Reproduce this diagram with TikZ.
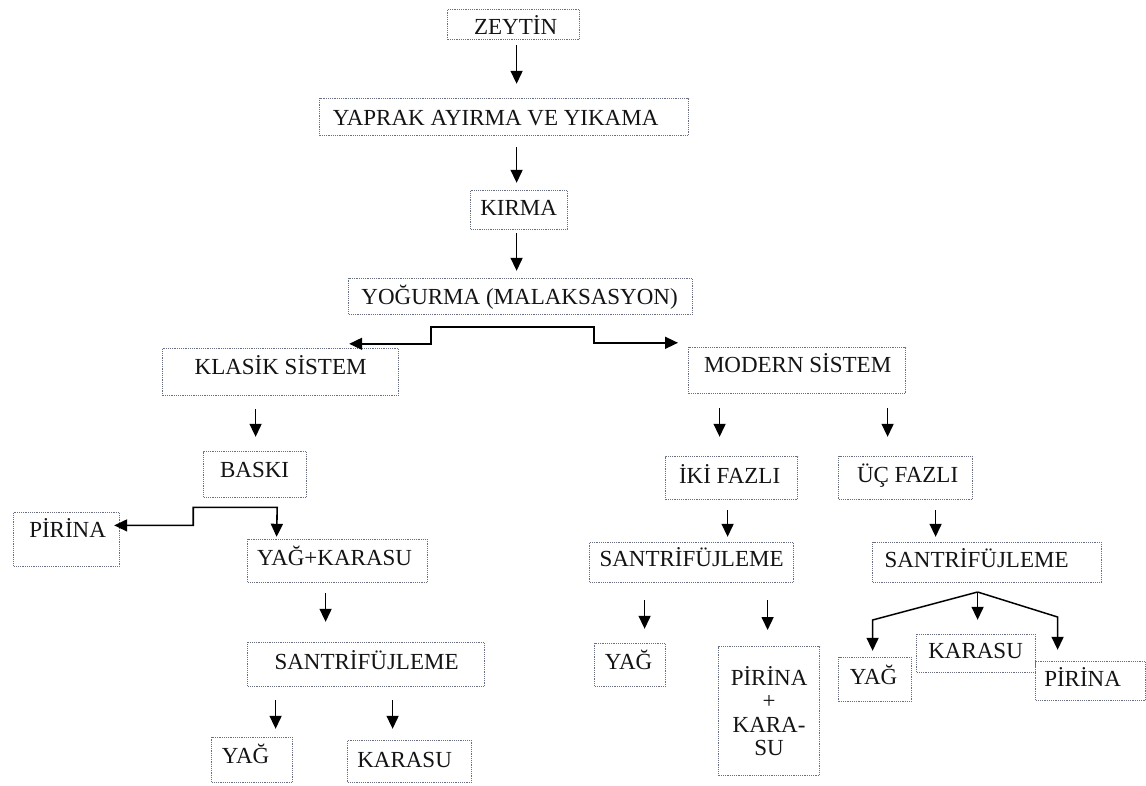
\documentclass[tikz,border=0pt]{standalone}
\usepackage{fontspec}
\setmainfont{Liberation Serif}
\usetikzlibrary{arrows.meta,calc}
\definecolor{boxline}{RGB}{105,110,130}
\definecolor{txt}{RGB}{20,20,20}
\newcommand\flowbox[8]{%
 \pgfmathsetmacro\fbw{#4-#2}%
 \pgfmathsetmacro\fbh{#6-#3}%
 \pgfmathsetmacro\fbd{#5-#6}%
 \pgfmathsetmacro\fbs{2*(#7-(#2+#4)/2)}%
 \node[box, minimum width=\fbw pt, text height=\fbh pt, text depth=\fbd pt, anchor=south west] (#1) at (#2,#5) {\hspace*{\fbs pt}#8};}
\begin{document}
\begin{tikzpicture}[x=1pt,y=-1pt,
  box/.style={draw=boxline, densely dotted, line width=1.2pt, inner sep=0pt, text=txt,
    font=\fontsize{23}{23.5}\selectfont},
  arr/.style={draw=black, line width=1.5pt, -{Triangle[width=12pt,length=13pt]}},
  arrboth/.style={draw=black, line width=1.6pt, {Triangle[width=12pt,length=13pt]}-{Triangle[width=12pt,length=13pt]}}]
\useasboundingbox[fill=white] (0,0) rectangle (1146,785);
% name, x1, y1, x2, y2, baseline, text centre, text
\flowbox{zeytin}{447}{10}{579}{40}{35}{515}{ZEYTİN}
\flowbox{yaprak}{319}{99}{688}{136}{126}{495}{YAPRAK AYIRMA VE YIKAMA}
\flowbox{kirma}{470}{191}{567}{230}{216}{518}{KIRMA}
\flowbox{yogurma}{348}{279}{692}{315}{305}{519}{YOĞURMA (MALAKSASYON)}
\flowbox{klasik}{162}{349}{398}{396}{375}{280}{KLASİK SİSTEM}
\flowbox{modern}{688}{348}{905}{394}{373}{797}{MODERN SİSTEM}
\flowbox{baski}{203}{452}{306}{498}{478}{254}{BASKI}
\flowbox{pirinaL}{13}{513}{119}{567}{538}{67}{PİRİNA}
\flowbox{yagkarasu}{247}{540}{427}{583}{566}{334}{YAĞ+KARASU}
\flowbox{santL}{247}{643}{484}{687}{670}{366}{SANTRİFÜJLEME}
\flowbox{yagL}{211}{738}{292}{783}{764}{245}{YAĞ}
\flowbox{karasuL}{347}{741}{471}{783}{768}{404}{KARASU}
\flowbox{iki}{665}{457}{797}{500}{484}{729}{İKİ FAZLI}
\flowbox{uc}{838}{457}{972}{500}{483}{907}{ÜÇ FAZLI}
\flowbox{santM}{589}{543}{793}{583}{567}{691}{SANTRİFÜJLEME}
\flowbox{santR}{872}{543}{1101}{583}{568}{976}{SANTRİFÜJLEME}
\flowbox{yagM}{594}{644}{665}{687}{670}{628}{YAĞ}
\node[box, minimum width=101pt, minimum height=129pt, anchor=north west, align=center] (pkM) at (718,646) {PİRİNA\\+\\KARA-\\SU};
\flowbox{yagR}{838}{658}{911}{702}{685}{873}{YAĞ}
\flowbox{karasuR}{916}{635}{1035}{673}{659}{975}{KARASU}
\flowbox{pirinaR}{1035}{662}{1145}{701}{687}{1082}{PİRİNA}
% main column
\draw[arr] ($(zeytin.south)+(3,5)$) -- ($(yaprak.north)+(12.5,-14)$);
\draw[arr] ($(yaprak.south)+(12.5,11)$) -- ($(kirma.north)+(-2.5,-7)$);
\draw[arr] ($(kirma.south)+(-2.5,3)$) -- ($(yogurma.north)+(-4,-7)$);
% split to the two systems
\draw[arrboth] ($(klasik.north east)+(-50,-4)$) -- ++(82,0) -- ++(0,-17) -- ++(163,0) -- ++(0,16) -- ($(modern.north west)+(-10,-4)$);
% classic branch
\draw[arr] ($(klasik.south)+(-25,13)$) -- ($(baski.north)+(0.5,-14)$);
\draw[arrboth] ($(pirinaL.east)+(-6,-14)$) -- ++(79,0) -- ++(0,-18) -- ++(84,0) -- ($(yagkarasu.north)+(-61,-2)$);
\draw[arr] ($(yagkarasu.south)+(-12,10)$) -- ($(santL.north)+(-40.5,-20)$);
\draw[arr] ($(santL.south)+(-90.5,13)$) -- ($(yagL.north)+(23.5,-8)$);
\draw[arr] ($(santL.south)+(26.5,13)$) -- ($(karasuL.north)+(-17,-11)$);
% modern branch
\draw[arr] ($(modern.south)+(-77.5,14)$) -- ($(iki.north)+(-12,-19)$);
\draw[arr] ($(modern.south)+(90.5,14)$) -- ($(uc.north)+(-18,-19)$);
\draw[arr] ($(iki.south)+(-4,10)$) -- ($(santM.north)+(36,-5)$);
\draw[arr] ($(uc.south)+(30,10)$) -- ($(santR.north)+(-51.5,-5)$);
\draw[arr] ($(santM.south)+(-47,17)$) -- ($(yagM.north)+(14.5,-14)$);
\draw[arr] ($(santM.south)+(76,17)$) -- ($(pkM.north)+(-1.5,-16)$);
\coordinate (ap) at ($(santR.south)+(-9.5,9)$);
\draw[arr] (ap) -- ++(-105,28) -- ($(yagR.north)+(-2.5,-6)$);
\draw[arr] (ap) -- ($(karasuR.north)+(1.5,-14)$);
\draw[arr] (ap) -- ++(80,25) -- ($(pirinaR.north)+(-33,-11)$);
\end{tikzpicture}
\end{document}
